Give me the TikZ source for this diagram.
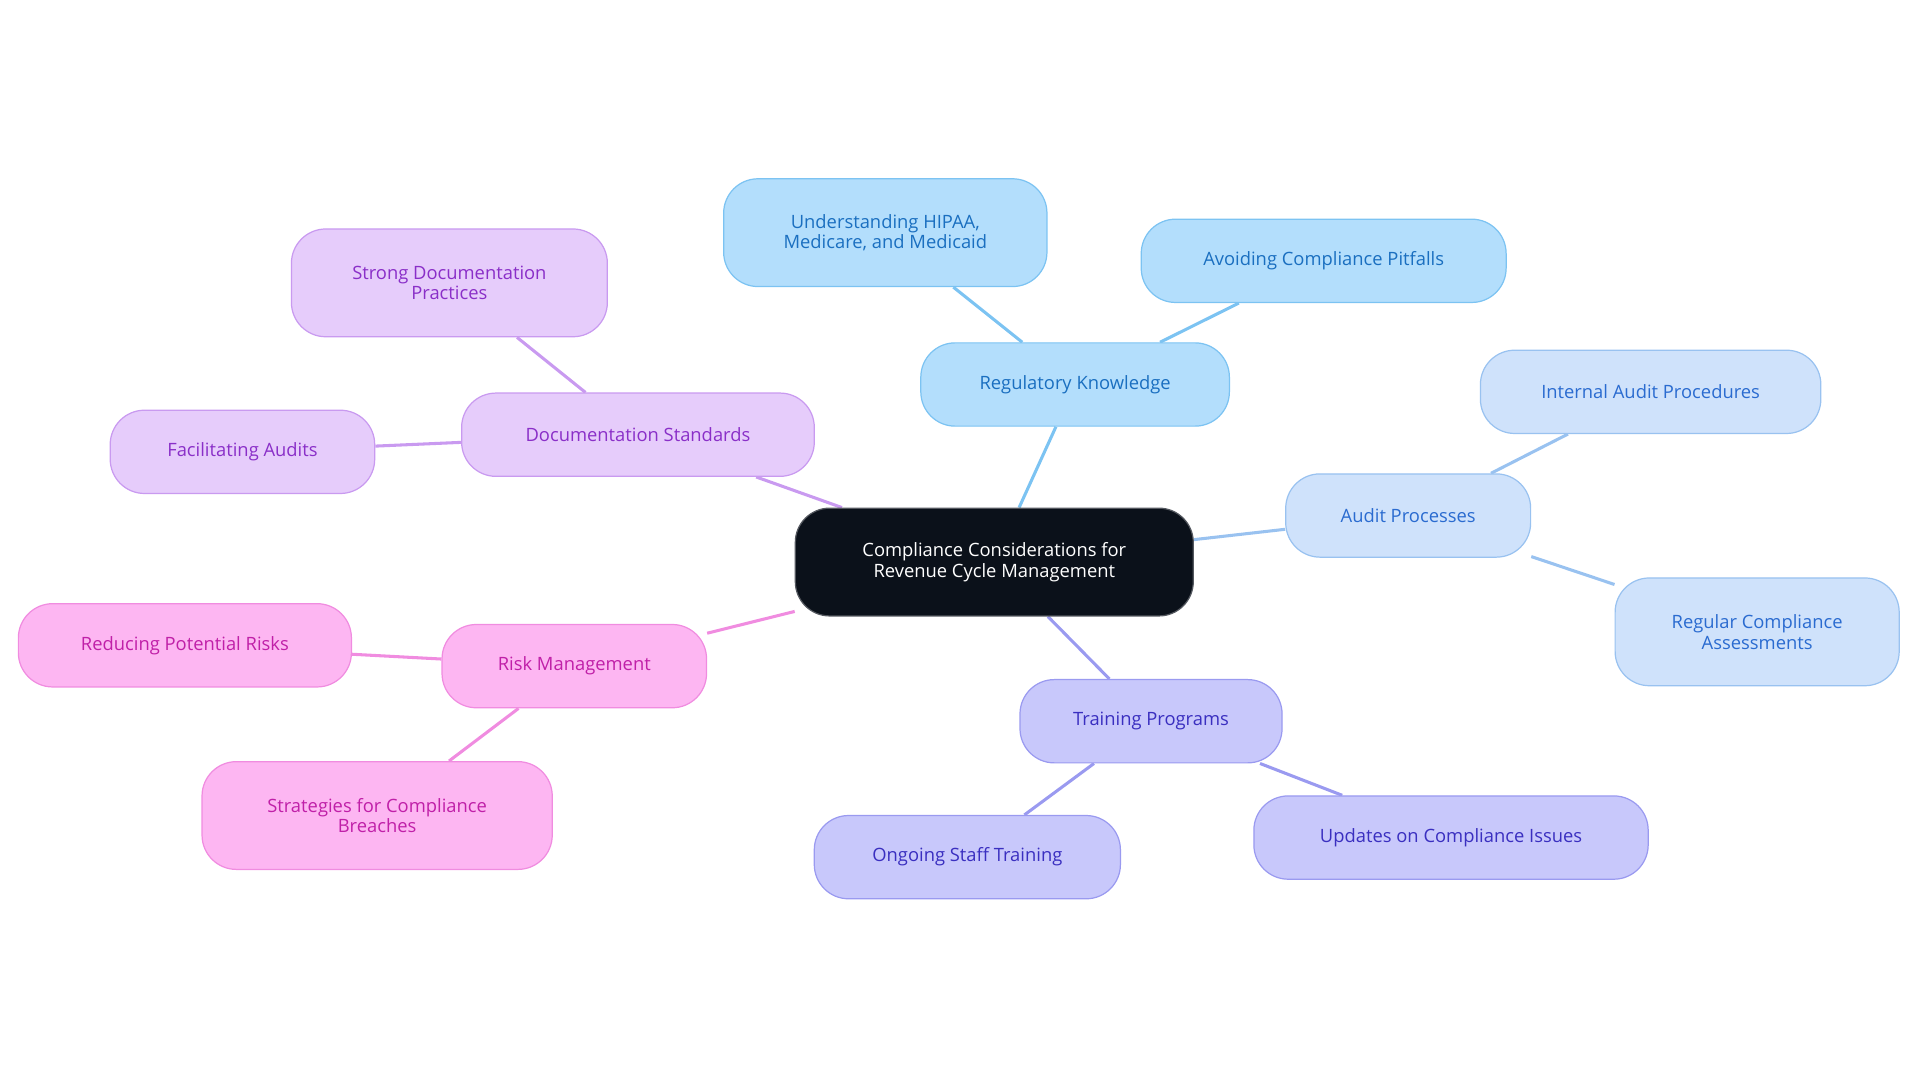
\documentclass[tikz,border=0pt]{standalone}
\usepackage{fontspec}
\setmainfont{Open Sans}
\usetikzlibrary{backgrounds}
\definecolor{cen}{HTML}{0B111A}
\definecolor{bF}{HTML}{B3DEFC}\definecolor{bD}{HTML}{7CC3F2}\definecolor{bT}{HTML}{1A6FC0}
\definecolor{aF}{HTML}{CFE2FB}\definecolor{aD}{HTML}{99C2F0}\definecolor{aT}{HTML}{2A6BD0}
\definecolor{tF}{HTML}{C8C8FB}\definecolor{tD}{HTML}{9A9AF0}\definecolor{tT}{HTML}{3A2FC0}
\definecolor{rF}{HTML}{FDB6F2}\definecolor{rD}{HTML}{F08CE0}\definecolor{rT}{HTML}{C020A8}
\definecolor{dF}{HTML}{E6CCFB}\definecolor{dD}{HTML}{C99AF0}\definecolor{dT}{HTML}{8A2FC8}
\tikzset{
 box/.style n args={3}{draw=#2,fill=#1,text=#3,line width=1pt,rounded corners=28pt,align=center,font=\fontsize{15}{17}\selectfont,inner sep=0pt},
 bb/.style={box={bF}{bD}{bT}}, ab/.style={box={aF}{aD}{aT}}, tb/.style={box={tF}{tD}{tT}},
 rb/.style={box={rF}{rD}{rT}}, db/.style={box={dF}{dD}{dT}},
 ln/.style={draw=#1,line width=2.5pt}
}
\begin{document}
\begin{tikzpicture}[x=1pt,y=-1pt]
\useasboundingbox (0,0) rectangle (1568,884);
\node[box={cen}{cen!70}{white},minimum width=325pt,minimum height=88pt] (c) at (812,459) {Compliance Considerations for\\Revenue Cycle Management};
\node[bb,minimum width=252pt,minimum height=68pt] (reg) at (878,314) {Regulatory Knowledge};
\node[bb,minimum width=264pt,minimum height=88pt] (hip) at (723,190) {Understanding HIPAA,\\Medicare, and Medicaid};
\node[bb,minimum width=298pt,minimum height=68pt] (avo) at (1081,213) {Avoiding Compliance Pitfalls};
\node[ab,minimum width=200pt,minimum height=68pt] (aud) at (1150,421) {Audit Processes};
\node[ab,minimum width=278pt,minimum height=68pt] (int) at (1348,320) {Internal Audit Procedures};
\node[ab,minimum width=232pt,minimum height=88pt] (rca) at (1435,516) {Regular Compliance\\Assessments};
\node[tb,minimum width=214pt,minimum height=68pt] (tra) at (940,589) {Training Programs};
\node[tb,minimum width=250pt,minimum height=68pt] (ong) at (790,700) {Ongoing Staff Training};
\node[tb,minimum width=322pt,minimum height=68pt] (upd) at (1185,684) {Updates on Compliance Issues};
\node[rb,minimum width=216pt,minimum height=68pt] (risk) at (469,544) {Risk Management};
\node[rb,minimum width=272pt,minimum height=68pt] (red) at (151,527) {Reducing Potential Risks};
\node[rb,minimum width=286pt,minimum height=88pt] (str) at (308,666) {Strategies for Compliance\\Breaches};
\node[db,minimum width=288pt,minimum height=68pt] (doc) at (521,355) {Documentation Standards};
\node[db,minimum width=258pt,minimum height=88pt] (sdp) at (367,231) {Strong Documentation\\Practices};
\node[db,minimum width=216pt,minimum height=68pt] (fac) at (198,369) {Facilitating Audits};
\begin{scope}[on background layer]
\draw[ln=bD] (c)--(reg) (reg)--(hip) (reg)--(avo);
\draw[ln=aD] (c)--(aud) (aud)--(int) (aud)--(rca);
\draw[ln=tD] (c)--(tra) (tra)--(ong) (tra)--(upd);
\draw[ln=rD] (c)--(risk) (risk)--(red) (risk)--(str);
\draw[ln=dD] (c)--(doc) (doc)--(sdp) (doc)--(fac);
\end{scope}
\end{tikzpicture}
\end{document}
